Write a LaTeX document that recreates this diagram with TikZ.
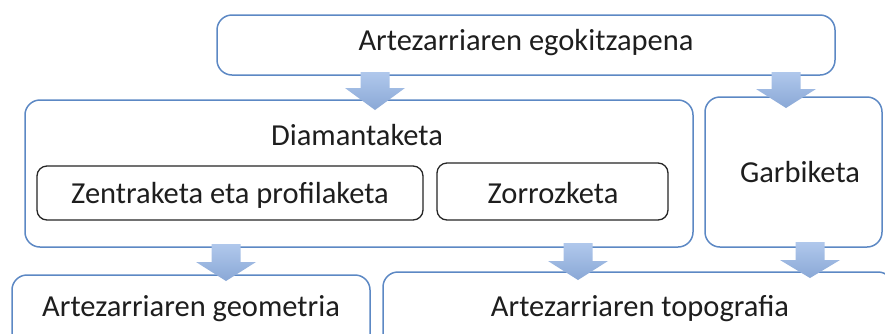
\documentclass[tikz,border=0pt]{standalone}
\usepackage{fontspec}
\setmainfont{Carlito}
\definecolor{boxblue}{RGB}{92,136,196}
\definecolor{arrtop}{RGB}{176,200,236}
\definecolor{arrbot}{RGB}{138,168,214}
\definecolor{txt}{RGB}{30,30,30}
\tikzset{
  outerbox/.style={draw=boxblue, line width=1.5pt, rounded corners=15pt, fill=white, inner sep=0pt},
  innerbox/.style={draw=black!85, line width=1.3pt, rounded corners=10pt, fill=white, inner sep=0pt},
  lbl/.style={text=txt, font=\fontsize{30.5}{33}\selectfont, anchor=base, inner sep=0pt},
  blockarr/.style={top color=arrtop, bottom color=arrbot, draw=none}
}
\newcommand\blockarrow[4]{% cx, shaft top, head start, tip
  \path[blockarr] (#1-14.5,#2) -- (#1+14.5,#2) -- (#1+14.5,#3) -- (#1+30,#3) -- (#1,#4) -- (#1-30,#3) -- (#1-14.5,#3) -- cycle;}
\begin{document}
\begin{tikzpicture}[x=1pt,y=-1pt]
\useasboundingbox (0,0) rectangle (885,333);
\clip (0,0) rectangle (885,333);
% boxes
\node[outerbox, minimum width=618pt, minimum height=60pt] (top) at (526,45) {};
\node[outerbox, minimum width=668pt, minimum height=147pt] (diam) at (359,173.5) {};
\node[outerbox, minimum width=177pt, minimum height=150pt] (garb) at (793.5,172) {};
\node[innerbox, minimum width=386pt, minimum height=54pt] (zent) at (230,193) {};
\node[innerbox, minimum width=231pt, minimum height=57pt] (zorr) at (552.5,191.5) {};
\node[outerbox, minimum width=358pt, minimum height=75pt] (geom) at (191,312.5) {};
\node[outerbox, minimum width=510pt, minimum height=78pt] (topo) at (638,311) {};
% texts
\node[lbl] (ttop) at (526,50) {Artezarriaren egokitzapena};
\node[lbl] (tdiam) at (357,145) {Diamantaketa};
\node[lbl] (tzent) at (230,203) {Zentraketa eta profilaketa};
\node[lbl] (tzorr) at (553,203) {Zorrozketa};
\node[lbl] (tgarb) at (800,182) {Garbiketa};
\node[lbl] (tgeom) at (191,316) {Artezarriaren geometria};
\node[lbl] (ttopo) at (640,316) {Artezarriaren topografia};
% block arrows
\blockarrow{375}{72}{88}{110}
\blockarrow{786}{72}{89}{108}
\blockarrow{226}{244}{262}{281}
\blockarrow{578}{243}{261}{280}
\blockarrow{810}{242}{260}{278}
\end{tikzpicture}
\end{document}
